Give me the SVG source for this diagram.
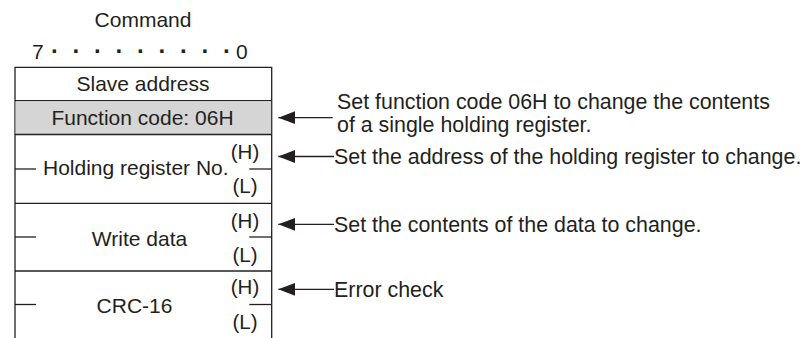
<svg xmlns="http://www.w3.org/2000/svg" width="804" height="338" viewBox="0 0 804 338">
  <style>
    text { font-family: "Liberation Sans", Arial, sans-serif; font-size: 21px; fill: #231f20; }
    .c { text-anchor: middle; }
    .hl { text-anchor: middle; font-size: 20.5px; }
    .dots { font-weight: bold; font-size: 24px; }
    .note { font-size: 21.4px; }
    .ln { stroke: #231f20; stroke-width: 1.3; fill: none; }
    .ar { stroke: #231f20; stroke-width: 1.3; fill: none; marker-end: url(#ah); }
  </style>
  <defs>
    <marker id="ah" viewBox="0 -7 17 14" refX="17" refY="0" markerWidth="17" markerHeight="14" markerUnits="userSpaceOnUse" orient="auto">
      <path d="M0,-6.5 L17,0 L0,6.5 z" fill="#231f20"/>
    </marker>
  </defs>
  <rect width="804" height="338" fill="#ffffff"/>

  <g id="header">
    <text class="c" x="143" y="27">Command</text>
    <text y="59.3"><tspan x="32">7</tspan><tspan class="dots" x="51 72.5 94 115.5 137 158.5 180 201.5 223">·········</tspan><tspan x="236">0</tspan></text>
  </g>

  <g id="frame">
    <path class="ln" d="M15,338 V67.3 H271.7 V338"/>
  </g>

  <g id="slave-address">
    <line class="ln" x1="15" y1="100.7" x2="271.7" y2="100.7"/>
    <text class="c" x="143" y="91">Slave address</text>
  </g>

  <g id="function-code">
    <rect x="15.6" y="101.4" width="255.5" height="32.5" fill="#d5d5d5"/>
    <line class="ln" x1="15" y1="134.5" x2="271.7" y2="134.5"/>
    <text class="c" x="142.5" y="125">Function code: 06H</text>
  </g>

  <g id="holding-register">
    <line class="ln" x1="15" y1="169" x2="36" y2="169"/>
    <line class="ln" x1="249.3" y1="169" x2="271.7" y2="169"/>
    <line class="ln" x1="15" y1="203.4" x2="271.7" y2="203.4"/>
    <text x="43" y="175">Holding register No.</text>
    <text class="hl" x="245" y="159">(H)</text>
    <text class="hl" x="245" y="193">(L)</text>
  </g>

  <g id="write-data">
    <line class="ln" x1="15" y1="237" x2="36" y2="237"/>
    <line class="ln" x1="249.3" y1="237" x2="271.7" y2="237"/>
    <line class="ln" x1="15" y1="271" x2="271.7" y2="271"/>
    <text class="c" x="139.5" y="246">Write data</text>
    <text class="hl" x="245" y="227.5">(H)</text>
    <text class="hl" x="245" y="261.5">(L)</text>
  </g>

  <g id="crc-16">
    <line class="ln" x1="15" y1="304.5" x2="36" y2="304.5"/>
    <line class="ln" x1="249.3" y1="304.5" x2="271.7" y2="304.5"/>
    <text class="c" x="134.5" y="313">CRC-16</text>
    <text class="hl" x="245" y="294">(H)</text>
    <text class="hl" x="245" y="329">(L)</text>
  </g>

  <g id="notes">
    <text class="note" x="337" y="109">Set function code 06H to change the contents</text>
    <text class="note" x="337" y="132">of a single holding register.</text>
    <text class="note" x="334" y="164">Set the address of the holding register to change.</text>
    <text class="note" x="334" y="231.5">Set the contents of the data to change.</text>
    <text class="note" x="334" y="297">Error check</text>
  </g>

  <g id="connectors">
    <line class="ar" x1="332.7" y1="117.7" x2="278.3" y2="117.7"/>
    <line class="ar" x1="334" y1="156.5" x2="278.3" y2="156.5"/>
    <line class="ar" x1="334" y1="224.3" x2="278.3" y2="224.3"/>
    <line class="ar" x1="334" y1="289.3" x2="278.3" y2="289.3"/>
  </g>
</svg>
